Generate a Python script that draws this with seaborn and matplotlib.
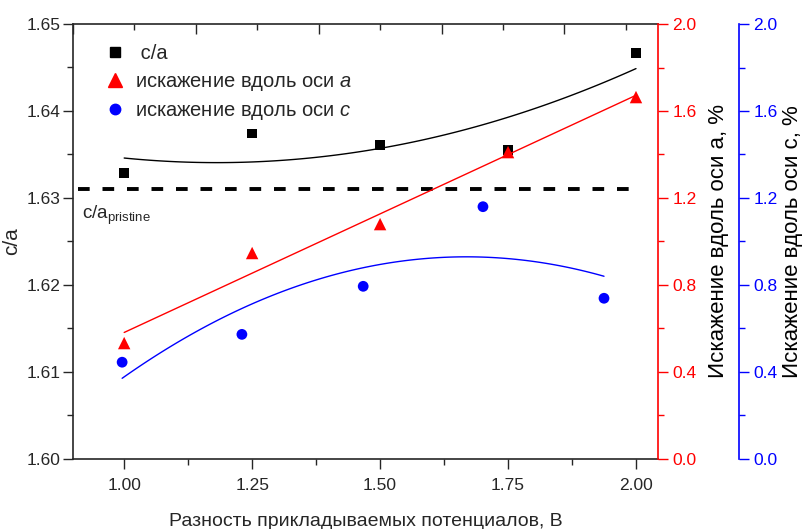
import numpy as np
import pandas as pd
import matplotlib
matplotlib.use("Agg")
import matplotlib.pyplot as plt
from matplotlib.ticker import MultipleLocator, FixedLocator
from matplotlib.lines import Line2D
import seaborn as sns

# данные
voltage = [1.00, 1.25, 1.50, 1.75, 2.00]
ca_ratio = [1.6329, 1.6374, 1.6361, 1.6355, 1.6467]
dist_a = [0.533, 0.947, 1.080, 1.411, 1.664]
voltage_c = [0.996, 1.230, 1.467, 1.701, 1.9375]
dist_c = [0.445, 0.573, 0.794, 1.160, 0.739]
pristine_ca = 1.631

sns.set_style("ticks")
plt.rcParams['font.family'] = ['Liberation Sans', 'DejaVu Sans']
plt.rcParams['mathtext.fontset'] = 'custom'
plt.rcParams['mathtext.rm'] = 'Liberation Sans'
plt.rcParams['mathtext.it'] = 'Liberation Sans:italic'

RED = '#ff0000'
BLUE = '#0000ff'

fig = plt.figure(figsize=(8.02, 5.29), dpi=100)
ax = fig.add_axes([73 / 802, 1 - 459 / 529, (658 - 73) / 802, (459 - 24) / 529])
ax2 = ax.twinx()
ax3 = ax.twinx()

df = pd.DataFrame({'V': voltage, 'ca': ca_ratio, 'a': dist_a})
dfc = pd.DataFrame({'V': voltage_c, 'c': dist_c})

# c/a
sns.regplot(data=df, x='V', y='ca', ax=ax, order=2, ci=None, scatter=False,
            line_kws=dict(color='black', lw=1))
sns.scatterplot(data=df, x='V', y='ca', ax=ax, marker='s', s=48, color='black',
                edgecolor='none', zorder=5)
ax.hlines(pristine_ca, 0.91, 2.0, colors='black', lw=2.8, linestyles=(0, (3, 3.3)))
ax.text(0.918, 1.628, 'c/a$_{\\mathregular{pristine}}$', fontsize=13.5, va='center', ha='left')

# искажение вдоль оси a
sns.regplot(data=df, x='V', y='a', ax=ax2, order=1, ci=None, scatter=False,
            line_kws=dict(color=RED, lw=1))
sns.scatterplot(data=df, x='V', y='a', ax=ax2, marker='^', s=80, color=RED,
                edgecolor='none', zorder=5)

# искажение вдоль оси c
sns.regplot(data=dfc, x='V', y='c', ax=ax3, order=2, ci=None, scatter=False,
            line_kws=dict(color=BLUE, lw=1))
sns.scatterplot(data=dfc, x='V', y='c', ax=ax3, marker='o', s=60, color=BLUE,
                edgecolor='none', zorder=5)

# main axis
ax.set_xlim(0.9, 2.043)
ax.set_ylim(1.60, 1.65)
ax.xaxis.set_major_locator(MultipleLocator(0.25))
ax.xaxis.set_minor_locator(MultipleLocator(0.125))
ax.yaxis.set_major_locator(MultipleLocator(0.01))
ax.yaxis.set_minor_locator(MultipleLocator(0.005))
ax.xaxis.set_major_formatter(matplotlib.ticker.FormatStrFormatter('%.2f'))
ax.yaxis.set_major_formatter(matplotlib.ticker.FormatStrFormatter('%.2f'))
ax.tick_params(which='major', direction='out', length=7, width=1, labelsize=12.5, pad=2)
ax.tick_params(which='minor', direction='out', length=4, width=1)
ax.tick_params(axis='x', which='major', pad=7)
ax.set_xlabel('Разность прикладываемых потенциалов, В', fontsize=14, labelpad=14)
ax.set_ylabel('c/a', fontsize=15, labelpad=4)
for s in ['left', 'bottom', 'top']:
    ax.spines[s].set_linewidth(1.2)
ax.spines['right'].set_visible(False)

top = ax.secondary_xaxis('top')
top.xaxis.set_major_locator(FixedLocator([0.90, 1.14, 1.38, 1.62, 1.86]))
top.xaxis.set_minor_locator(FixedLocator([1.02, 1.26, 1.50, 1.74, 1.98]))
top.tick_params(which='major', direction='in', length=7, width=1, labeltop=False)
top.tick_params(which='minor', direction='in', length=4, width=1)
top.spines['top'].set_visible(False)

# right axes (offset in points: 81 px at 100 dpi)
for axr, col, off, lab, lp in [(ax2, RED, 0, 'Искажение вдоль оси а, %', 8),
                               (ax3, BLUE, 81 * 0.72, 'Искажение вдоль оси с, %', 3)]:
    axr.set_ylim(0, 2.0)
    axr.set_xlim(0.9, 2.043)
    axr.yaxis.set_major_locator(MultipleLocator(0.4))
    axr.yaxis.set_minor_locator(MultipleLocator(0.2))
    axr.yaxis.set_major_formatter(matplotlib.ticker.FormatStrFormatter('%.1f'))
    for s in ['left', 'top', 'bottom']:
        axr.spines[s].set_visible(False)
    axr.spines['right'].set_color(col)
    axr.spines['right'].set_linewidth(1.2)
    axr.spines['right'].set_position(('outward', off))
    axr.tick_params(axis='y', which='major', direction='out', length=7, width=1,
                    colors=col, labelsize=12.5, labelcolor=col)
    axr.tick_params(axis='y', which='minor', direction='out', length=4, width=1, colors=col)
    axr.set_ylabel(lab, fontsize=16, color='black', labelpad=lp)
    axr.set_xlabel('')
    axr.grid(False)

handles = [
    Line2D([], [], marker='s', color='black', ls='none', markersize=7),
    Line2D([], [], marker='^', color=RED, ls='none', markersize=9.5),
    Line2D([], [], marker='o', color=BLUE, ls='none', markersize=7.5),
]
labels = [' c/a', 'искажение вдоль оси $\\mathit{a}$', 'искажение вдоль оси $\\mathit{c}$']
ax3.legend(handles, labels, loc='upper left', bbox_to_anchor=(0.02, 0.995), frameon=False,
           fontsize=14.5, handletextpad=0.4, labelspacing=0.42, handlelength=1.2)

fig.savefig('out.png', dpi=100)
